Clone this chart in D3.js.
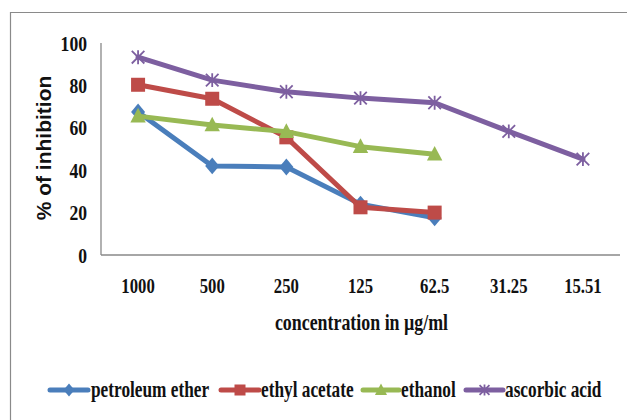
<!DOCTYPE html>
<html>
<head>
<meta charset="utf-8">
<script src="https://cdn.jsdelivr.net/npm/d3@7"></script>
<style>
  html, body { margin: 0; padding: 0; background: #fff; }
  svg { display: block; }
</style>
</head>
<body>
<svg id="chart" width="627" height="420"></svg>
<script>
// Concentrations (µg/ml) on the category axis
const concentrations = ["1000", "500", "250", "125", "62.5", "31.25", "15.51"];

// % of inhibition per extract
const petroleumEther = [67.5, 42, 41.5, 24, 17.5];
const ethylAcetate   = [80.3, 73.7, 55.5, 22.5, 20];
const ethanol        = [65.5, 61.3, 58.2, 51.1, 47.5];
const ascorbicAcid   = [93.3, 82.5, 77, 74, 71.8, 58.3, 45.2];

const yTicks = [0, 20, 40, 60, 80, 100];

const seriesNames  = ["petroleum ether", "ethyl acetate", "ethanol", "ascorbic acid"];
const seriesValues = [petroleumEther, ethylAcetate, ethanol, ascorbicAcid];
const seriesColors = ["#4A7EBB", "#BE4B48", "#98B954", "#7D5FA0"];
const seriesMarkers = ["diamond", "square", "triangle", "cross"];

const svg = d3.select("#chart");

// Outer chart frame
svg.append("path")
  .attr("d", "M10.5,420 L10.5,12.5 L627,12.5")
  .attr("fill", "none")
  .attr("stroke", "#8a8a8a")
  .attr("stroke-width", 1.2);

const plot = { left: 101, right: 620, top: 43, bottom: 255 };

const x = d3.scalePoint()
  .domain(concentrations)
  .range([plot.left, plot.right])
  .padding(0.5);

const y = d3.scaleLinear()
  .domain([0, 100])
  .range([plot.bottom, plot.top]);

// Axes lines
svg.append("line")
  .attr("x1", plot.left).attr("x2", plot.left)
  .attr("y1", plot.top).attr("y2", plot.bottom)
  .attr("stroke", "#888").attr("stroke-width", 1.3);
svg.append("line")
  .attr("x1", plot.left).attr("x2", plot.right)
  .attr("y1", plot.bottom).attr("y2", plot.bottom)
  .attr("stroke", "#888").attr("stroke-width", 1.3);

const serif = "'Liberation Serif', 'Times New Roman', serif";

// Y tick labels
svg.append("g").selectAll("text")
  .data(yTicks)
  .join("text")
  .attr("transform", d => `translate(87,${y(d) + 7.5}) scale(0.8,1)`)
  .attr("text-anchor", "end")
  .attr("font-family", serif)
  .attr("font-weight", "bold")
  .attr("font-size", 22)
  .attr("fill", "#111")
  .text(d => d);

// X tick labels
svg.append("g").selectAll("text")
  .data(concentrations)
  .join("text")
  .attr("transform", d => `translate(${x(d)},${292.5}) scale(0.76,1)`)
  .attr("text-anchor", "middle")
  .attr("font-family", serif)
  .attr("font-weight", "bold")
  .attr("font-size", 22)
  .attr("fill", "#111")
  .text(d => d);

// Axis titles
svg.append("text")
  .attr("transform", `translate(361.5,330) scale(0.745,1)`)
  .attr("text-anchor", "middle")
  .attr("font-family", serif)
  .attr("font-weight", "bold")
  .attr("font-size", 24)
  .attr("fill", "#111")
  .text("concentration in µg/ml");

svg.append("text")
  .attr("transform", "translate(51,148) rotate(-90)")
  .attr("text-anchor", "middle")
  .attr("font-family", "'Liberation Sans', Arial, sans-serif")
  .attr("font-weight", "bold")
  .attr("font-size", 21)
  .attr("fill", "#111")
  .text("% of inhibition");

// Marker drawing
function drawMarker(g, type, color, cx, cy, s) {
  if (type === "diamond") {
    g.append("path")
      .attr("d", `M${cx},${cy - s * 0.6} L${cx + s * 0.5},${cy} L${cx},${cy + s * 0.6} L${cx - s * 0.5},${cy} Z`)
      .attr("fill", color);
  } else if (type === "square") {
    g.append("rect")
      .attr("x", cx - s / 2).attr("y", cy - s / 2)
      .attr("width", s).attr("height", s)
      .attr("fill", color);
  } else if (type === "triangle") {
    g.append("path")
      .attr("d", `M${cx},${cy - s * 0.6} L${cx + s * 0.55},${cy + s * 0.45} L${cx - s * 0.55},${cy + s * 0.45} Z`)
      .attr("fill", color);
  } else {
    const h = s * 0.45;
    g.append("path")
      .attr("d", `M${cx - h},${cy - h} L${cx + h},${cy + h} M${cx - h},${cy + h} L${cx + h},${cy - h} M${cx},${cy - h * 1.1} L${cx},${cy + h * 1.1}`)
      .attr("stroke", color)
      .attr("stroke-width", 1.8)
      .attr("fill", "none");
  }
}

const line = d3.line()
  .x((d, i) => x(concentrations[i]))
  .y(d => y(d));

const markerSize = [14, 14, 14, 14];

seriesValues.forEach((vals, k) => {
  const g = svg.append("g");
  g.append("path")
    .datum(vals)
    .attr("d", line)
    .attr("fill", "none")
    .attr("stroke", seriesColors[k])
    .attr("stroke-width", 5)
    .attr("stroke-linejoin", "round")
    .attr("stroke-linecap", "round");
  vals.forEach((v, i) => {
    drawMarker(g, seriesMarkers[k], seriesColors[k], x(concentrations[i]), y(v), markerSize[k]);
  });
});

// Legend
const legendItems = [
  { x0: 50, x1: 88, tx: 91 },
  { x0: 221, x1: 259, tx: 261 },
  { x0: 363, x1: 399, tx: 401 },
  { x0: 466, x1: 503, tx: 505 }
];
const legendY = 390;
legendItems.forEach((it, k) => {
  const g = svg.append("g");
  g.append("line")
    .attr("x1", it.x0).attr("x2", it.x1)
    .attr("y1", legendY).attr("y2", legendY)
    .attr("stroke", seriesColors[k])
    .attr("stroke-width", 5)
    .attr("stroke-linecap", "round");
  drawMarker(g, seriesMarkers[k], seriesColors[k], (it.x0 + it.x1) / 2, legendY, 11);
  g.append("text")
    .attr("transform", `translate(${it.tx},${legendY + 7}) scale(0.72,1)`)
    .attr("font-family", serif)
    .attr("font-weight", "bold")
    .attr("font-size", 24)
    .attr("fill", "#111")
    .text(seriesNames[k]);
});
</script>
</body>
</html>
